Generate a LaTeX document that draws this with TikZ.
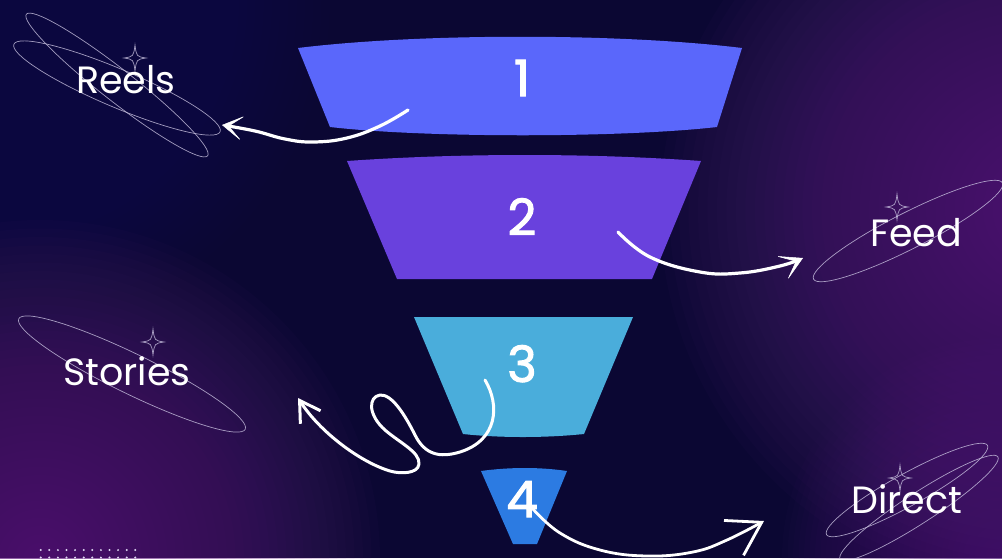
\documentclass[tikz,border=0pt]{standalone}
\usepackage{fontspec}
\setmainfont{Poppins}
\newfontfamily\numfont{Poppins}[FakeBold=2]
\usetikzlibrary{arrows.meta}
\definecolor{bgbase}{HTML}{0B0733}
\definecolor{glowR}{HTML}{6A2C8C}
\definecolor{glowBL}{HTML}{6A2A88}
\definecolor{glowTL}{HTML}{221A5E}
\definecolor{glowBR}{HTML}{5A2880}
\definecolor{fone}{HTML}{5A67FB}
\definecolor{ftwo}{HTML}{6941DD}
\definecolor{fthree}{HTML}{4AADDB}
\definecolor{ffour}{HTML}{2C7BE2}
\definecolor{ellc}{HTML}{C9C2E0}
\definecolor{dotc}{HTML}{DCD4F0}
\begin{document}
\begin{tikzpicture}[x=1pt,y=-1pt,
  num/.style={text=white, font=\numfont\fontsize{50}{54}\selectfont, inner sep=0pt, anchor=base},
  lbl/.style={text=white, font=\fontsize{38}{42}\selectfont, inner sep=0pt, anchor=base},
  ellline/.style={draw=ellc, draw opacity=0.8, line width=0.7pt},
  warrow/.style={draw=white, line width=3.2pt, line cap=round, line join=round},
  sparkle/.pic={\draw[ellline] (0,-13) .. controls (1.5,-1.5) .. (11,0) .. controls (1.5,1.5) .. (0,13) .. controls (-1.5,1.5) .. (-11,0) .. controls (-1.5,-1.5) .. (0,-13) -- cycle;}
]
\useasboundingbox (0,0) rectangle (1002,558);
\clip (0,0) rectangle (1002,558);
% background
\fill[bgbase] (0,0) rectangle (1002,558);
\foreach \k in {1,...,40} {
  \fill[glowTL, fill opacity=0.03] (0,0) circle ({8.25pt*\k});
  \fill[glowR, fill opacity=0.035] (1040,210) circle ({9.5pt*\k});
  \fill[glowBL, fill opacity=0.035] (40,560) circle ({8.5pt*\k});
  \fill[glowBR, fill opacity=0.03] (1002,558) circle ({5.5pt*\k});
}
% dots
\foreach \i in {0,...,11} {
  \fill[dotc] (40.7+8.6*\i,550) circle (1.1pt);
  \fill[dotc] (40.7+8.6*\i,557.5) circle (1.1pt);
}
% funnel
\fill[fone] (298,48) .. controls (420,33) and (620,33) .. (742,48) -- (717,127) .. controls (620,138) and (425,138) .. (330,127) -- cycle;
\fill[ftwo] (347,161) .. controls (460,153) and (590,153) .. (701,161) -- (652,279) -- (397,279) -- cycle;
\fill[fthree] (414,317) -- (633,317) -- (584,434) .. controls (545,438) and (500,438) .. (463,434) -- cycle;
\fill[ffour] (481,471) .. controls (510,467) and (540,467) .. (567,471) -- (537,544) -- (513,544) -- cycle;
\node[num] (n1) at (522,96) {1};
\node[num] (n2) at (522,235) {2};
\node[num] (n3) at (522,382) {3};
\node[num] (n4) at (522,517) {4};
% ellipses and sparkles
\draw[ellline, rotate around={-23:(117,88)}] (117,88) ellipse [x radius=112pt, y radius=19pt];
\draw[ellline, rotate around={-38:(117,85)}] (117,85) ellipse [x radius=115pt, y radius=16pt];
\draw[ellline, rotate around={27:(908,231)}] (908,231) ellipse [x radius=106pt, y radius=18pt];
\draw[ellline, rotate around={-26:(132,374)}] (132,374) ellipse [x radius=126pt, y radius=20pt];
\draw[ellline, rotate around={29:(907,490)}] (907,490) ellipse [x radius=92pt, y radius=16pt];
\draw[ellline, rotate around={33:(919,508)}] (919,508) ellipse [x radius=94pt, y radius=15pt];
\pic at (135,58) {sparkle};
\pic at (897,207) {sparkle};
\pic at (153,342) {sparkle};
\pic at (900,478) {sparkle};
% labels
\node[lbl] (reels) at (126,93) {Reels};
\node[lbl] (feed) at (916,246) {Feed};
\node[lbl] (stories) at (127,385) {Stories};
\node[lbl] (direct) at (907,513) {Direct};
% arrow endpoints
\coordinate (a1s) at (408,110);
\coordinate (a1e) at (222,125);
\coordinate (a2s) at (618,232);
\coordinate (a2e) at (803,258);
\coordinate (a3s) at (485,380);
\coordinate (a3e) at (298,398);
\coordinate (a4s) at (532,508);
\coordinate (a4e) at (764,521);
% arrows
\draw[warrow, -{Stealth[length=22pt,width=26pt,inset=15pt,line width=0.5pt]}]
  plot[smooth, tension=0.7] coordinates {(a1s) (380,126) (347,138) (313,142) (285,139) (255,131) (a1e)};
\draw[warrow, -{Stealth[length=24pt,width=27pt,inset=16pt,line width=0.5pt]}]
  plot[smooth, tension=0.7] coordinates {(a2s) (650,257) (700,272) (740,273) (780,266) (a2e)};
\draw[warrow, line width=3pt, -{Straight Barb[length=20pt,width=24pt]}]
  (a3s) .. controls (500,405) and (498,440) .. (460,452)
        .. controls (440,458) and (425,455) .. (415,435)
        .. controls (405,415) and (392,394) .. (380,395)
        .. controls (368,397) and (368,415) .. (385,430)
        .. controls (400,443) and (420,452) .. (419,464)
        .. controls (418,474) and (400,474) .. (390,471)
        .. controls (360,462) and (320,432) .. (a3e);
\draw[warrow, line width=2.8pt, -{Straight Barb[length=32pt,width=40pt]}]
  plot[smooth, tension=0.7] coordinates {(a4s) (560,533) (600,550) (647,556) (693,552) (727,540) (a4e)};
\end{tikzpicture}
\end{document}
